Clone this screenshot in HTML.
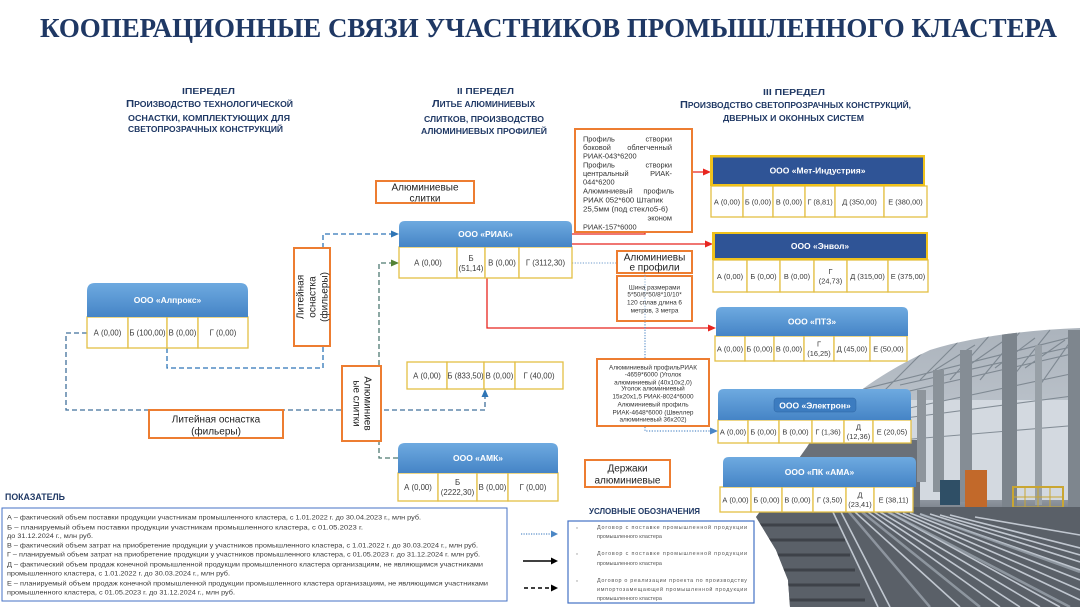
<!DOCTYPE html>
<html><head><meta charset="utf-8">
<style>
html,body{margin:0;padding:0;background:#fff;}
svg{display:block;}
text{font-family:"Liberation Sans","DejaVu Sans",sans-serif;}
.t{font-family:"Liberation Serif",serif;font-weight:bold;fill:#1f3864;}
.hd{font-weight:bold;fill:#1f3864;font-size:8px;}
.c{font-size:7.8px;fill:#3a3a3a;text-anchor:middle;}
.cs{font-size:7.4px;fill:#3a3a3a;text-anchor:middle;}
.h{font-size:8.5px;fill:#fff;font-weight:bold;text-anchor:middle;}
.ob{font-size:10px;fill:#222;text-anchor:middle;}
.sm{font-size:6.4px;fill:#333;text-anchor:middle;}
.pf{font-size:7.4px;fill:#333;}
.ind{font-size:6.5px;fill:#3a3a3a;}
.lg{font-family:"Liberation Serif",serif;font-size:5.4px;fill:#555;}
</style></head>
<body>
<svg width="1080" height="607" viewBox="0 0 1080 607" xmlns="http://www.w3.org/2000/svg">
<defs>
<linearGradient id="hb" x1="0" y1="0" x2="0" y2="1">
<stop offset="0" stop-color="#6eaae0"/><stop offset="1" stop-color="#4584c6"/>
</linearGradient>
<linearGradient id="ph" x1="0" y1="0" x2="0" y2="1">
<stop offset="0" stop-color="#aab2bb"/><stop offset="0.35" stop-color="#bcc3cb"/>
<stop offset="0.62" stop-color="#939aa3"/><stop offset="0.7" stop-color="#666c74"/>
<stop offset="1" stop-color="#565b63"/>
</linearGradient>
<clipPath id="pc">
<path d="M807 447 C830 410 870 378 930 350 C975 336 1030 330 1080 328 L1080 607 L790 607 L788 580 L776 550 L756 517 L782 482 Z"/>
</clipPath>
</defs>

<!-- PHOTO -->
<g clip-path="url(#pc)">
<rect x="740" y="320" width="340" height="287" fill="url(#ph)"/>
<rect x="885" y="400" width="195" height="100" fill="#d3d9e0"/>
<g stroke="#76808a" stroke-width="1.1" opacity="0.85">
<path d="M860 390 L1080 335 M870 400 L1080 352 M900 410 L1080 372 M920 380 L960 340 M950 380 L990 335 M980 380 L1020 332 M1010 380 L1050 330 M880 395 L930 345 M1040 385 L1075 335 M935 370 L975 345 M965 368 L1005 340 M995 368 L1035 338 M1025 368 L1065 340 M900 385 L1080 345 M890 420 L1080 395 M900 440 L1080 425"/>
</g>
<rect x="815" y="395" width="70" height="45" fill="#4f6d8c"/>
<rect x="800" y="440" width="120" height="70" fill="#6a7078"/>
<rect x="1002" y="328" width="15" height="180" fill="#7c848c"/>
<rect x="960" y="350" width="12" height="152" fill="#858d95"/>
<rect x="933" y="370" width="11" height="122" fill="#8a9299"/>
<rect x="917" y="390" width="9" height="92" fill="#8e959c"/>
<rect x="1068" y="330" width="12" height="200" fill="#7e868e"/>
<rect x="1035" y="345" width="7" height="160" fill="#98a0a7"/>
<rect x="1013" y="487" width="50" height="33" fill="none" stroke="#c9a632" stroke-width="2"/>
<path d="M1013 497 H1063 M1013 507 H1063 M1025 487 V520 M1038 487 V520 M1050 487 V520" stroke="#c9a632" stroke-width="1"/>
<rect x="965" y="470" width="22" height="37" fill="#c2692a"/>
<rect x="940" y="480" width="20" height="25" fill="#2f4f66"/>
<rect x="740" y="507" width="340" height="100" fill="#5a6068"/>
<g stroke="#3e4249" stroke-width="3">
<path d="M756 525 H840 M760 540 H845 M770 555 H850 M775 570 H855 M780 585 H860 M785 600 H865"/>
</g>
<g stroke="#d3dae3" stroke-width="1.6" opacity="0.85">
<path d="M832 510 L878 607 M840 510 L890 607 M855 512 L960 607 M868 512 L1000 607 M880 512 L1040 607 M895 512 L1080 600 M910 513 L1080 580 M930 514 L1080 562 M950 515 L1080 548 M975 517 L1080 535 M874 512 L1020 607 M888 512 L1060 607 M903 513 L1080 590 M920 514 L1080 570 M940 515 L1080 555"/>
</g>
<g stroke="#a4adb7" stroke-width="2.5" opacity="0.7">
<path d="M862 512 L980 607 M888 512 L1070 607 M920 514 L1080 572 M848 511 L930 607"/>
</g>
</g>

<!-- TITLE -->
<text class="t" x="40" y="37" font-size="27" textLength="1017" lengthAdjust="spacingAndGlyphs">КООПЕРАЦИОННЫЕ СВЯЗИ УЧАСТНИКОВ ПРОМЫШЛЕННОГО КЛАСТЕРА</text>

<!-- SECTION HEADERS -->
<text class="hd" x="182" y="94" font-size="10.5" textLength="53" lengthAdjust="spacingAndGlyphs">IПЕРЕДЕЛ</text>
<text class="hd" x="126" y="107" textLength="167" lengthAdjust="spacingAndGlyphs"><tspan font-size="10.5">П</tspan>РОИЗВОДСТВО  ТЕХНОЛОГИЧЕСКОЙ</text>
<text class="hd" x="128" y="121" textLength="162" lengthAdjust="spacingAndGlyphs">ОСНАСТКИ,  КОМПЛЕКТУЮЩИХ  ДЛЯ</text>
<text class="hd" x="128" y="132" textLength="155" lengthAdjust="spacingAndGlyphs">СВЕТОПРОЗРАЧНЫХ  КОНСТРУКЦИЙ</text>

<text class="hd" x="457" y="94" font-size="10.5" textLength="57" lengthAdjust="spacingAndGlyphs">II ПЕРЕДЕЛ</text>
<text class="hd" x="432" y="107" textLength="103" lengthAdjust="spacingAndGlyphs"><tspan font-size="10.5">Л</tspan>ИТЬЕ АЛЮМИНИЕВЫХ</text>
<text class="hd" x="424" y="122" textLength="120" lengthAdjust="spacingAndGlyphs">СЛИТКОВ, ПРОИЗВОДСТВО</text>
<text class="hd" x="421" y="134" textLength="126" lengthAdjust="spacingAndGlyphs">АЛЮМИНИЕВЫХ  ПРОФИЛЕЙ</text>

<text class="hd" x="763" y="95" font-size="10.5" textLength="62" lengthAdjust="spacingAndGlyphs">III ПЕРЕДЕЛ</text>
<text class="hd" x="680" y="108" textLength="231" lengthAdjust="spacingAndGlyphs"><tspan font-size="10.5">П</tspan>РОИЗВОДСТВО СВЕТОПРОЗРАЧНЫХ  КОНСТРУКЦИЙ,</text>
<text class="hd" x="723" y="121" textLength="141" lengthAdjust="spacingAndGlyphs">ДВЕРНЫХ И ОКОННЫХ  СИСТЕМ</text>

<!-- CONNECTORS -->
<path d="M167 348 V368 H323 V234 H393" fill="none" stroke="#2e75b6" stroke-width="1.3" stroke-dasharray="5 3"/>
<polygon points="399,234 391,230.5 391,237.5" fill="#2e75b6"/>
<path d="M87 333 H66 V410 H485 V395" fill="none" stroke="#41719c" stroke-width="1.3" stroke-dasharray="5 3"/>
<polygon points="485,389 481.5,397 488.5,397" fill="#2e75b6"/>
<path d="M398 458 H379 V263 H393" fill="none" stroke="#4f7a72" stroke-width="1.3" stroke-dasharray="5 3"/>
<polygon points="399,263 391,259.5 391,266.5" fill="#548235"/>
<path d="M572 234 H645 V172 H704" fill="none" stroke="#e8251f" stroke-width="1.3"/>
<polygon points="711,172 703,168.5 703,175.5" fill="#e8251f"/>
<path d="M572 244 H706" fill="none" stroke="#e8251f" stroke-width="1.3"/>
<polygon points="713,244 705,240.5 705,247.5" fill="#e8251f"/>
<path d="M487 278 V328 H709" fill="none" stroke="#e8251f" stroke-width="1.3"/>
<polygon points="716,328 708,324.5 708,331.5" fill="#e8251f"/>
<path d="M572 263 H617" fill="none" stroke="#8aaed6" stroke-width="1.2" stroke-dasharray="1.2 1.5"/>
<path d="M645 273 V431 H712" fill="none" stroke="#5b8fc9" stroke-width="1.2" stroke-dasharray="1.2 1.5"/>
<polygon points="718,431 710,427.5 710,434.5" fill="#4a86c5"/>

<!-- ORANGE BOXES -->
<g fill="#fff" stroke="#ed7d31" stroke-width="2">
<rect x="575" y="129" width="117" height="103"/>
<rect x="376" y="181" width="98" height="22"/>
<rect x="294" y="248" width="36" height="98"/>
<rect x="342" y="366" width="39" height="75"/>
<rect x="149" y="410" width="134" height="28"/>
<rect x="617" y="251" width="75" height="22"/>
<rect x="617" y="276" width="75" height="45"/>
<rect x="597" y="359" width="112" height="67"/>
<rect x="585" y="460" width="85" height="27"/>
</g>
<path d="M645 276 V321" stroke="#8aaed6" stroke-width="1" stroke-dasharray="1.2 1.5"/>

<g class="pf">
<text x="583" y="141.5">Профиль</text><text x="672" y="141.5" text-anchor="end">створки</text>
<text x="583" y="150">боковой</text><text x="672" y="150" text-anchor="end">облегченный</text>
<text x="583" y="158.5">РИАК-043*6200</text>
<text x="583" y="167.5">Профиль</text><text x="672" y="167.5" text-anchor="end">створки</text>
<text x="583" y="176">центральный</text><text x="672" y="176" text-anchor="end">РИАК-</text>
<text x="583" y="184.5">044*6200</text>
<text x="583" y="193.5">Алюминиевый</text><text x="674" y="193.5" text-anchor="end">профиль</text>
<text x="583" y="202.5" textLength="80" lengthAdjust="spacingAndGlyphs">РИАК 052*600 Штапик</text>
<text x="583" y="211.5" textLength="85" lengthAdjust="spacingAndGlyphs">25,5мм (под стекло5-6)</text>
<text x="672" y="220.5" text-anchor="end">эконом</text>
<text x="583" y="229.5">РИАК-157*6000</text>
</g>

<text class="ob" x="425" y="190.5">Алюминиевые</text>
<text class="ob" x="425" y="201.5">слитки</text>
<g transform="translate(312,297) rotate(-90)">
<text class="ob" x="0" y="-8.5">Литейная</text>
<text class="ob" x="0" y="3.5">оснастка</text>
<text class="ob" x="0" y="15.5">(фильеры)</text>
</g>
<g transform="translate(361.5,403.5) rotate(90)">
<text class="ob" x="0" y="-3">Алюминиев</text>
<text class="ob" x="0" y="8">ые слитки</text>
</g>
<text class="ob" x="216" y="422.5">Литейная оснастка</text>
<text class="ob" x="216" y="434.5">(фильеры)</text>
<text class="ob" x="654.5" y="260.5">Алюминиевы</text>
<text class="ob" x="654.5" y="270.5">е профили</text>
<text class="ob" x="627.5" y="471.5">Держаки</text>
<text class="ob" x="627.5" y="483.5">алюминиевые</text>
<text class="sm" x="654.5" y="289.3">Шина размерами</text>
<text class="sm" x="654.5" y="296.3">5*50/6*50/8*10/10*</text>
<text class="sm" x="654.5" y="304.3">120 сплав длина 6</text>
<text class="sm" x="654.5" y="312.3">метров, 3 метра</text>
<text class="sm" x="653" y="369.3">Алюминиевый профильРИАК</text>
<text class="sm" x="653" y="376.3">-4659*6000 (Уголок</text>
<text class="sm" x="653" y="384.3">алюминиевый (40х10х2,0)</text>
<text class="sm" x="653" y="390.3">Уголок алюминиевый</text>
<text class="sm" x="653" y="398.3">15х20х1,5 РИАК-8024*6000</text>
<text class="sm" x="653" y="406.3">Алюминиевый профиль</text>
<text class="sm" x="653" y="414.3">РИАК-4648*6000 (Швеллер</text>
<text class="sm" x="653" y="421.3">алюминиевый 36х202)</text>

<!-- TABLES -->
<g fill="#fff" stroke="#e3bf45" stroke-width="1.3">
<rect x="399" y="247" width="58" height="31"/><rect x="457" y="247" width="28" height="31"/><rect x="485" y="247" width="34" height="31"/><rect x="519" y="247" width="53" height="31"/>
<rect x="87" y="317" width="41" height="31"/><rect x="128" y="317" width="39" height="31"/><rect x="167" y="317" width="31" height="31"/><rect x="198" y="317" width="50" height="31"/>
<rect x="407" y="362" width="40" height="27"/><rect x="447" y="362" width="37" height="27"/><rect x="484" y="362" width="31" height="27"/><rect x="515" y="362" width="48" height="27"/>
<rect x="398" y="473" width="40" height="28"/><rect x="438" y="473" width="39" height="28"/><rect x="477" y="473" width="31" height="28"/><rect x="508" y="473" width="50" height="28"/>
<rect x="711" y="186" width="32" height="31"/><rect x="743" y="186" width="30" height="31"/><rect x="773" y="186" width="32" height="31"/><rect x="805" y="186" width="30" height="31"/><rect x="835" y="186" width="49" height="31"/><rect x="884" y="186" width="43" height="31"/>
<rect x="713" y="260" width="34" height="32"/><rect x="747" y="260" width="33" height="32"/><rect x="780" y="260" width="34" height="32"/><rect x="814" y="260" width="33" height="32"/><rect x="847" y="260" width="41" height="32"/><rect x="888" y="260" width="40" height="32"/>
<rect x="715" y="336" width="30" height="25"/><rect x="745" y="336" width="29" height="25"/><rect x="774" y="336" width="30" height="25"/><rect x="804" y="336" width="30" height="25"/><rect x="834" y="336" width="36" height="25"/><rect x="870" y="336" width="37" height="25"/>
<rect x="718" y="420" width="30" height="23"/><rect x="748" y="420" width="31" height="23"/><rect x="779" y="420" width="33" height="23"/><rect x="812" y="420" width="32" height="23"/><rect x="844" y="420" width="29" height="23"/><rect x="873" y="420" width="38" height="23"/>
<rect x="720" y="487" width="31" height="25"/><rect x="751" y="487" width="31" height="25"/><rect x="782" y="487" width="31" height="25"/><rect x="813" y="487" width="33" height="25"/><rect x="846" y="487" width="28" height="25"/><rect x="874" y="487" width="39" height="25"/>
</g>

<!-- HEADERS -->
<path d="M399 247 V227 Q399 221 405 221 H566 Q572 221 572 227 V247 Z" fill="url(#hb)"/>
<path d="M87 317 V291 Q87 283 95 283 H240 Q248 283 248 291 V317 Z" fill="url(#hb)"/>
<path d="M398 473 V450 Q398 443 405 443 H551 Q558 443 558 450 V473 Z" fill="url(#hb)"/>
<path d="M716 336 V313 Q716 307 722 307 H902 Q908 307 908 313 V336 Z" fill="url(#hb)"/>
<path d="M718 420 V395 Q718 389 724 389 H905 Q911 389 911 395 V420 Z" fill="url(#hb)"/>
<path d="M723 487 V463 Q723 457 729 457 H910 Q916 457 916 463 V487 Z" fill="url(#hb)"/>
<rect x="774" y="398" width="82" height="14" rx="3" fill="#3c7cc0" stroke="#2f66a3" stroke-width="0.5"/>
<rect x="710" y="155" width="215" height="31" fill="#f0c21c"/>
<rect x="713" y="157.5" width="210" height="26.5" fill="#2f5496"/>
<rect x="712" y="232" width="216" height="28" fill="#f0c21c"/>
<rect x="715" y="234" width="211" height="24" fill="#2f5496"/>

<text class="h" x="485.5" y="237">ООО «РИАК»</text>
<text class="h" x="167.5" y="303">ООО «Алпрокс»</text>
<text class="h" x="478" y="461">ООО «АМК»</text>
<text class="h" x="817.5" y="173.5">ООО «Мет-Индустрия»</text>
<text class="h" x="820" y="249">ООО «Энвол»</text>
<text class="h" x="812" y="324.5">ООО «ПТЗ»</text>
<text class="h" x="815" y="408.5">ООО «Электрон»</text>
<text class="h" x="819.5" y="475">ООО «ПК «АМА»</text>

<!-- CELL TEXT -->
<text class="c" x="428" y="265.3">А (0,00)</text>
<text class="c" x="471" y="261">Б</text><text class="c" x="471" y="271">(51,14)</text>
<text class="c" x="502" y="265.3">В (0,00)</text>
<text class="c" x="545.5" y="265.3">Г (3112,30)</text>

<text class="c" x="107.5" y="335.3">А (0,00)</text>
<text class="c" x="147.5" y="335.3">Б (100,00)</text>
<text class="c" x="182.5" y="335.3">В (0,00)</text>
<text class="c" x="223" y="335.3">Г (0,00)</text>

<text class="c" x="427" y="378.3">А (0,00)</text>
<text class="c" x="465.5" y="378.3">Б (833,50)</text>
<text class="c" x="499.5" y="378.3">В (0,00)</text>
<text class="c" x="539" y="378.3">Г (40,00)</text>

<text class="c" x="418" y="489.8">А (0,00)</text>
<text class="c" x="457.5" y="485">Б</text><text class="c" x="457.5" y="495">(2222,30)</text>
<text class="c" x="492.5" y="489.8">В (0,00)</text>
<text class="c" x="533" y="489.8">Г (0,00)</text>

<text class="cs" x="727" y="204.3">А (0,00)</text>
<text class="cs" x="758" y="204.3">Б (0,00)</text>
<text class="cs" x="789" y="204.3">В (0,00)</text>
<text class="cs" x="820" y="204.3">Г (8,81)</text>
<text class="cs" x="859.5" y="204.3">Д (350,00)</text>
<text class="cs" x="905.5" y="204.3">Е (380,00)</text>

<text class="cs" x="730" y="278.8">А (0,00)</text>
<text class="cs" x="763.5" y="278.8">Б (0,00)</text>
<text class="cs" x="797" y="278.8">В (0,00)</text>
<text class="cs" x="830.5" y="274">Г</text><text class="cs" x="830.5" y="283.5">(24,73)</text>
<text class="cs" x="867.5" y="278.8">Д (315,00)</text>
<text class="cs" x="908" y="278.8">Е (375,00)</text>

<text class="cs" x="730" y="351.3">А (0,00)</text>
<text class="cs" x="759.5" y="351.3">Б (0,00)</text>
<text class="cs" x="789" y="351.3">В (0,00)</text>
<text class="cs" x="819" y="346.5">Г</text><text class="cs" x="819" y="356">(16,25)</text>
<text class="cs" x="852" y="351.3">Д (45,00)</text>
<text class="cs" x="888.5" y="351.3">Е (50,00)</text>

<text class="cs" x="733" y="434.3">А (0,00)</text>
<text class="cs" x="763.5" y="434.3">Б (0,00)</text>
<text class="cs" x="795.5" y="434.3">В (0,00)</text>
<text class="cs" x="828" y="434.3">Г (1,36)</text>
<text class="cs" x="858.5" y="429.5">Д</text><text class="cs" x="858.5" y="439">(12,36)</text>
<text class="cs" x="892" y="434.3">Е (20,05)</text>

<text class="cs" x="735.5" y="502.3">А (0,00)</text>
<text class="cs" x="766.5" y="502.3">Б (0,00)</text>
<text class="cs" x="797.5" y="502.3">В (0,00)</text>
<text class="cs" x="829.5" y="502.3">Г (3,50)</text>
<text class="cs" x="860" y="497.5">Д</text><text class="cs" x="860" y="507">(23,41)</text>
<text class="cs" x="893.5" y="502.3">Е (38,11)</text>

<!-- INDICATORS -->
<text x="5" y="500" font-size="9" font-weight="bold" fill="#1f3864" textLength="60" lengthAdjust="spacingAndGlyphs">ПОКАЗАТЕЛЬ</text>
<rect x="2" y="508" width="505" height="93" fill="#fff" stroke="#4472c4" stroke-width="1"/>
<g class="ind">
<text x="7" y="519.3" textLength="414" lengthAdjust="spacingAndGlyphs">А – фактический объем поставки продукции участникам промышленного кластера, с 1.01.2022 г. до 30.04.2023 г., млн руб.</text>
<text x="7" y="529.3" textLength="356" lengthAdjust="spacingAndGlyphs">Б – планируемый объем поставки продукции участникам промышленного кластера, с 01.05.2023 г.</text>
<text x="7" y="537.8" textLength="86" lengthAdjust="spacingAndGlyphs">до 31.12.2024 г., млн руб.</text>
<text x="7" y="547.3" textLength="471" lengthAdjust="spacingAndGlyphs">В – фактический объем затрат на приобретение продукции у участников промышленного кластера, с 1.01.2022 г.  до 30.03.2024 г., млн руб.</text>
<text x="7" y="556.3" textLength="473" lengthAdjust="spacingAndGlyphs">Г – планируемый объем затрат на приобретение продукции у участников промышленного кластера, с 01.05.2023 г. до 31.12.2024 г. млн руб.</text>
<text x="7" y="566.3" textLength="476" lengthAdjust="spacingAndGlyphs">Д – фактический объем продаж конечной промышленной продукции промышленного кластера организациям, не являющимся участниками</text>
<text x="7" y="575.3" textLength="223" lengthAdjust="spacingAndGlyphs">промышленного кластера, с 1.01.2022 г. до 30.03.2024 г., млн руб.</text>
<text x="7" y="585.3" textLength="481" lengthAdjust="spacingAndGlyphs">Е – планируемый объем продаж конечной промышленной продукции промышленного кластера организациям, не являющимся участниками</text>
<text x="7" y="594.3" textLength="228" lengthAdjust="spacingAndGlyphs">промышленного кластера, с 01.05.2023 г. до 31.12.2024 г., млн руб.</text>
</g>

<!-- LEGEND -->
<text x="589" y="514" font-size="8.5" font-weight="bold" fill="#1f3864" textLength="111" lengthAdjust="spacingAndGlyphs">УСЛОВНЫЕ  ОБОЗНАЧЕНИЯ</text>
<rect x="568" y="521" width="186" height="82" fill="#fff" stroke="#4472c4" stroke-width="1.2"/>
<path d="M521 534 H552" stroke="#5b8fc9" stroke-width="1.2" stroke-dasharray="1.2 1.3"/>
<polygon points="558,534 551,530.5 551,537.5" fill="#4a86c5"/>
<path d="M523 561 H552" stroke="#000" stroke-width="1.4"/>
<polygon points="558,561 551,557.5 551,564.5" fill="#000"/>
<path d="M524 588 H552" stroke="#000" stroke-width="1.4" stroke-dasharray="4 3"/>
<polygon points="558,588 551,584.5 551,591.5" fill="#000"/>
<g fill="#999"><circle cx="577" cy="528" r="0.7"/><circle cx="577" cy="554" r="0.7"/><circle cx="577" cy="581" r="0.7"/></g>
<g class="lg">
<text x="597" y="529" textLength="150" lengthAdjust="spacing">Договор  с  поставке  промышленной  продукции</text>
<text x="597" y="538">промышленного кластера</text>
<text x="597" y="555" textLength="150" lengthAdjust="spacing">Договор  с  поставке  промышленной  продукции</text>
<text x="597" y="565">промышленного кластера</text>
<text x="597" y="582" textLength="150" lengthAdjust="spacing">Договор о реализации проекта по производству</text>
<text x="597" y="591" textLength="150" lengthAdjust="spacing">импортозамещающей промышленной продукции</text>
<text x="597" y="600">промышленного кластера</text>
</g>
</svg>
</body></html>
